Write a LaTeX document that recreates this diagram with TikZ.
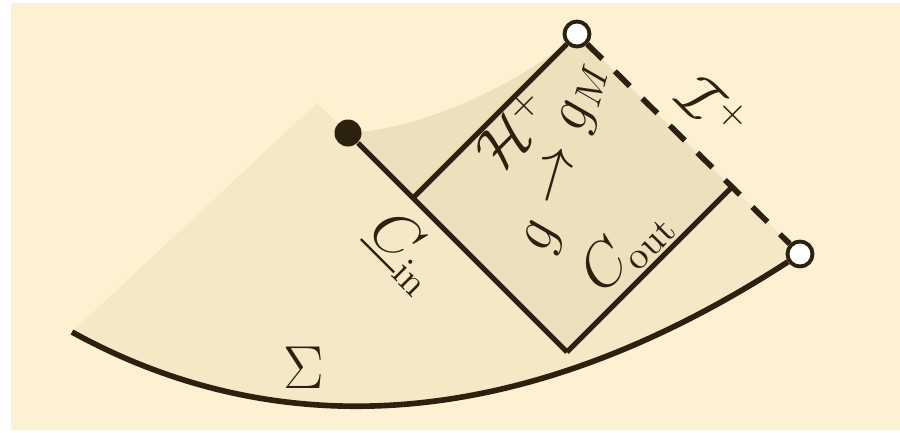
\documentclass[tikz,border=0pt]{standalone}
\usepackage{amsmath}
\usepackage{amssymb}
\usepackage{xcolor}
\usepackage{tikz}
\usetikzlibrary{positioning}
\definecolor{bgcream}{RGB}{252, 242, 209}
\definecolor{shadelight}{RGB}{245, 232, 198}
\definecolor{shadedark}{RGB}{237, 224, 189}
\definecolor{inkbrown}{RGB}{43, 33, 14}
\tikzset{
  nullline/.style={draw=inkbrown, line width=1.5pt},
  scriline/.style={draw=inkbrown, line width=1.6pt, dash pattern=on 6pt off 5pt},
  sigmaline/.style={draw=inkbrown, line width=1.6pt},
  opendot/.style={circle, draw=inkbrown, fill=white, line width=1.1pt,
    minimum size=0.25cm, inner sep=0pt},
  fulldot/.style={circle, fill=inkbrown, minimum size=0.27cm, inner sep=0pt},
  lbl/.style={text=inkbrown, font=\fontsize{16}{19}\selectfont}
}

\begin{document}
\begin{tikzpicture}
\useasboundingbox (0,0) rectangle (9,4.32);
\fill[white] (0,0) rectangle (9,4.32);
\fill[bgcream] (0.11,0.02) rectangle (9,4.29);

\coordinate (apex)  at (3.17,3.29);
\coordinate (sigL)  at (0.72,1.00);
\coordinate (sing)  at (3.48,2.99);
\coordinate (join)  at (4.13,2.34);
\coordinate (ihor)  at (5.77,3.98);
\coordinate (bot)   at (5.67,0.80);
\coordinate (kout)  at (7.31,2.44);
\coordinate (iend)  at (8.00,1.78);

\fill[shadelight] (sigL) .. controls (2.53,0.00) and (4.96,-0.19) .. (iend)
      -- (ihor) .. controls (5.20,3.47) and (4.20,3.02) .. (sing) -- (apex) -- cycle;
\fill[shadedark] (sing) .. controls (4.20,3.02) and (5.20,3.47) .. (ihor)
      -- (kout) -- (bot) -- cycle;

\node (ptop)   [opendot] at (ihor) {};
\node (pright) [opendot] at (iend) {};
\node (pblack) [fulldot] at (sing) {};

\draw[nullline]  (pblack) -- (bot);
\draw[nullline]  (join) -- (ptop);
\draw[nullline]  (bot) -- (kout);
\draw[scriline]  (ptop) -- (pright);
\draw[sigmaline] (sigL) .. controls (2.53,0.00) and (4.96,-0.19) .. (pright);

\node (sig)  [lbl] at (3.04,0.64) {$\Sigma$};
\node (cin)  [lbl, rotate=-45] at (4.05,1.80) {$\underline{C}_{\mathrm{in}}$};
\node (hor)  [lbl, rotate=45]  at (5.13,3.02) {$\mathcal{H}^{+}$};
\node (gto)  [lbl, rotate=74]  at (5.68,2.74) {$g \to g_{M}$};
\node (cout) [lbl, rotate=45]  at (6.26,1.83) {$C_{\mathrm{out}}$};
\node (scri) [lbl, rotate=-45] at (7.14,3.23) {$\mathcal{I}^{+}$};
\end{tikzpicture}
\end{document}
